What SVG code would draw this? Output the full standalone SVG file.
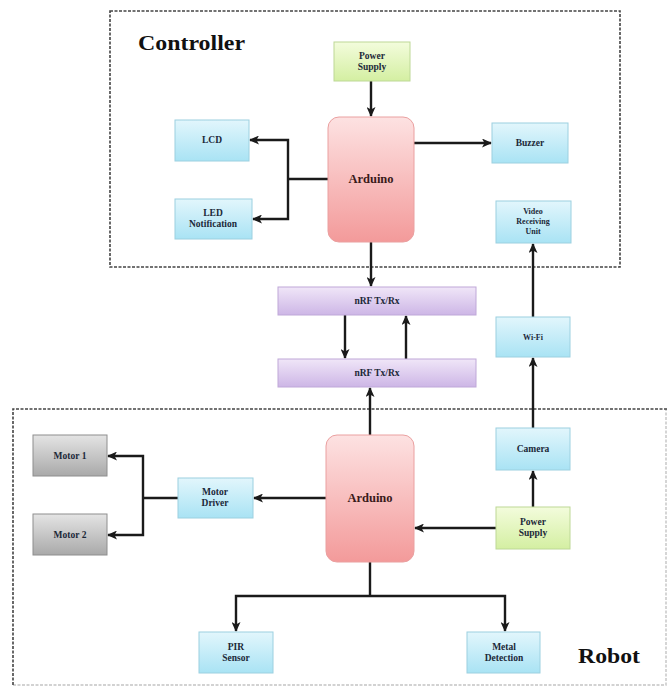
<svg xmlns="http://www.w3.org/2000/svg" width="668" height="689" viewBox="0 0 668 689">
<defs>
<linearGradient id="gBlue" x1="0" y1="0" x2="0" y2="1"><stop offset="0" stop-color="#e2f6fc"/><stop offset="1" stop-color="#a9e3f4"/></linearGradient>
<linearGradient id="gGreen" x1="0" y1="0" x2="0" y2="1"><stop offset="0" stop-color="#f3fcdc"/><stop offset="1" stop-color="#d4efa2"/></linearGradient>
<linearGradient id="gPink" x1="0" y1="0" x2="0" y2="1"><stop offset="0" stop-color="#fde2e2"/><stop offset="1" stop-color="#f39a9a"/></linearGradient>
<linearGradient id="gPurple" x1="0" y1="0" x2="0" y2="1"><stop offset="0" stop-color="#f0e6f8"/><stop offset="1" stop-color="#cdb6e6"/></linearGradient>
<linearGradient id="gGray" x1="0" y1="0" x2="0" y2="1"><stop offset="0" stop-color="#e4e4e4"/><stop offset="1" stop-color="#a9a9a9"/></linearGradient>
<marker id="ah" markerWidth="10" markerHeight="9" refX="9" refY="4.5" orient="auto" markerUnits="userSpaceOnUse"><path d="M0,0 L10,4.5 L0,9 L2.5,4.5 z" fill="#1a1a1a"/></marker>
</defs>
<style>
.frame{fill:none;stroke:#444;stroke-width:1.6;stroke-dasharray:3 1.5}
.frame-faint{fill:none;stroke:#c4c4c4;stroke-width:1.4;stroke-dasharray:3 1.5}
.blue{fill:url(#gBlue);stroke:#9cd0e0;stroke-width:1}
.green{fill:url(#gGreen);stroke:#bdd896;stroke-width:1}
.pink{fill:url(#gPink);stroke:#eaa0a0;stroke-width:1}
.purple{fill:url(#gPurple);stroke:#bfa8d8;stroke-width:1}
.gray{fill:url(#gGray);stroke:#8e8e8e;stroke-width:1}
.t{font-family:"Liberation Serif","Times New Roman",serif;font-weight:bold;fill:#1b2838;text-anchor:middle;font-size:9.5px}
.tb{font-family:"Liberation Serif","Times New Roman",serif;font-weight:bold;fill:#3a1a1a;text-anchor:middle;font-size:12.5px}
.title{font-family:"Liberation Serif","Times New Roman",serif;font-weight:bold;fill:#111;font-size:20px}
.c{fill:none;stroke:#1a1a1a;stroke-width:2.4}
.ca{fill:none;stroke:#1a1a1a;stroke-width:2.4;marker-end:url(#ah)}
</style>
<rect width="668" height="689" fill="#ffffff"/>

<g id="controller-frame">
<rect class="frame" x="110" y="11" width="510" height="256"/>
<text class="title" x="138" y="50" textLength="107" lengthAdjust="spacingAndGlyphs">Controller</text>
</g>
<g id="robot-frame">
<path class="frame-faint" d="M13,685 L666,685 L666,409"/>
<path class="frame" d="M13,685 L13,409 L668,409"/>
<text class="title" x="578" y="663" textLength="62" lengthAdjust="spacingAndGlyphs">Robot</text>
</g>

<g id="connectors">
<path class="ca" d="M371,81 L371,116"/>
<path class="c" d="M328,179 L288,179"/>
<path class="ca" d="M288,179 L288,140 L250,140"/>
<path class="ca" d="M288,179 L288,219 L253,219"/>
<path class="ca" d="M414,143 L491,143"/>
<path class="ca" d="M371,242 L371,286"/>
<path class="ca" d="M345,315 L345,358"/>
<path class="ca" d="M406,359 L406,316"/>
<path class="ca" d="M370,435 L370,388"/>
<path class="ca" d="M533,317 L533,244"/>
<path class="ca" d="M533,428 L533,358"/>
<path class="ca" d="M533,507 L533,471"/>
<path class="ca" d="M496,528 L415,528"/>
<path class="ca" d="M326,498 L254,498"/>
<path class="c" d="M178,498 L143,498"/>
<path class="ca" d="M143,498 L143,456 L108,456"/>
<path class="ca" d="M143,498 L143,535 L108,535"/>
<path class="c" d="M370,562 L370,596"/>
<path class="ca" d="M370,596 L236,596 L236,631"/>
<path class="ca" d="M370,596 L505,596 L505,631"/>
</g>

<g id="ctrl-power">
<rect class="green" x="334" y="42" width="76" height="39"/>
<text class="t" x="372" y="59">Power</text>
<text class="t" x="372" y="70">Supply</text>
</g>
<g id="ctrl-arduino">
<rect class="pink" x="328" y="117" width="86" height="125" rx="11"/>
<text class="tb" x="371" y="183">Arduino</text>
</g>
<g id="lcd">
<rect class="blue" x="175" y="120" width="74" height="41"/>
<text class="t" x="212" y="143">LCD</text>
</g>
<g id="led">
<rect class="blue" x="175" y="199" width="77" height="40"/>
<text class="t" x="213" y="216">LED</text>
<text class="t" x="213" y="227">Notification</text>
</g>
<g id="buzzer">
<rect class="blue" x="492" y="123" width="76" height="40"/>
<text class="t" x="530" y="146">Buzzer</text>
</g>
<g id="video">
<rect class="blue" x="496" y="201" width="75" height="42"/>
<text class="t" x="533" y="214" style="font-size:8px">Video</text>
<text class="t" x="533" y="224" style="font-size:8px">Receiving</text>
<text class="t" x="533" y="234" style="font-size:8px">Unit</text>
</g>
<g id="nrf-top">
<rect class="purple" x="278" y="287" width="198" height="28"/>
<text class="t" x="377" y="304">nRF Tx/Rx</text>
</g>
<g id="nrf-bottom">
<rect class="purple" x="278" y="359" width="198" height="28"/>
<text class="t" x="377" y="376">nRF Tx/Rx</text>
</g>
<g id="wifi">
<rect class="blue" x="496" y="317" width="74" height="40"/>
<text class="t" x="533" y="340" style="font-size:8px">Wi-Fi</text>
</g>
<g id="robot-arduino">
<rect class="pink" x="326" y="435" width="88" height="127" rx="11"/>
<text class="tb" x="370" y="502">Arduino</text>
</g>
<g id="camera">
<rect class="blue" x="496" y="428" width="74" height="42"/>
<text class="t" x="533" y="452">Camera</text>
</g>
<g id="robot-power">
<rect class="green" x="496" y="507" width="74" height="42"/>
<text class="t" x="533" y="525">Power</text>
<text class="t" x="533" y="536">Supply</text>
</g>
<g id="motor-driver">
<rect class="blue" x="178" y="478" width="75" height="40"/>
<text class="t" x="215" y="495">Motor</text>
<text class="t" x="215" y="506">Driver</text>
</g>
<g id="motor1">
<rect class="gray" x="33" y="435" width="74" height="41"/>
<text class="t" x="70" y="459">Motor 1</text>
</g>
<g id="motor2">
<rect class="gray" x="33" y="514" width="74" height="41"/>
<text class="t" x="70" y="538">Motor 2</text>
</g>
<g id="pir">
<rect class="blue" x="199" y="632" width="74" height="41"/>
<text class="t" x="236" y="650">PIR</text>
<text class="t" x="236" y="661">Sensor</text>
</g>
<g id="metal">
<rect class="blue" x="467" y="632" width="73" height="41"/>
<text class="t" x="504" y="650">Metal</text>
<text class="t" x="504" y="661">Detection</text>
</g>
</svg>
